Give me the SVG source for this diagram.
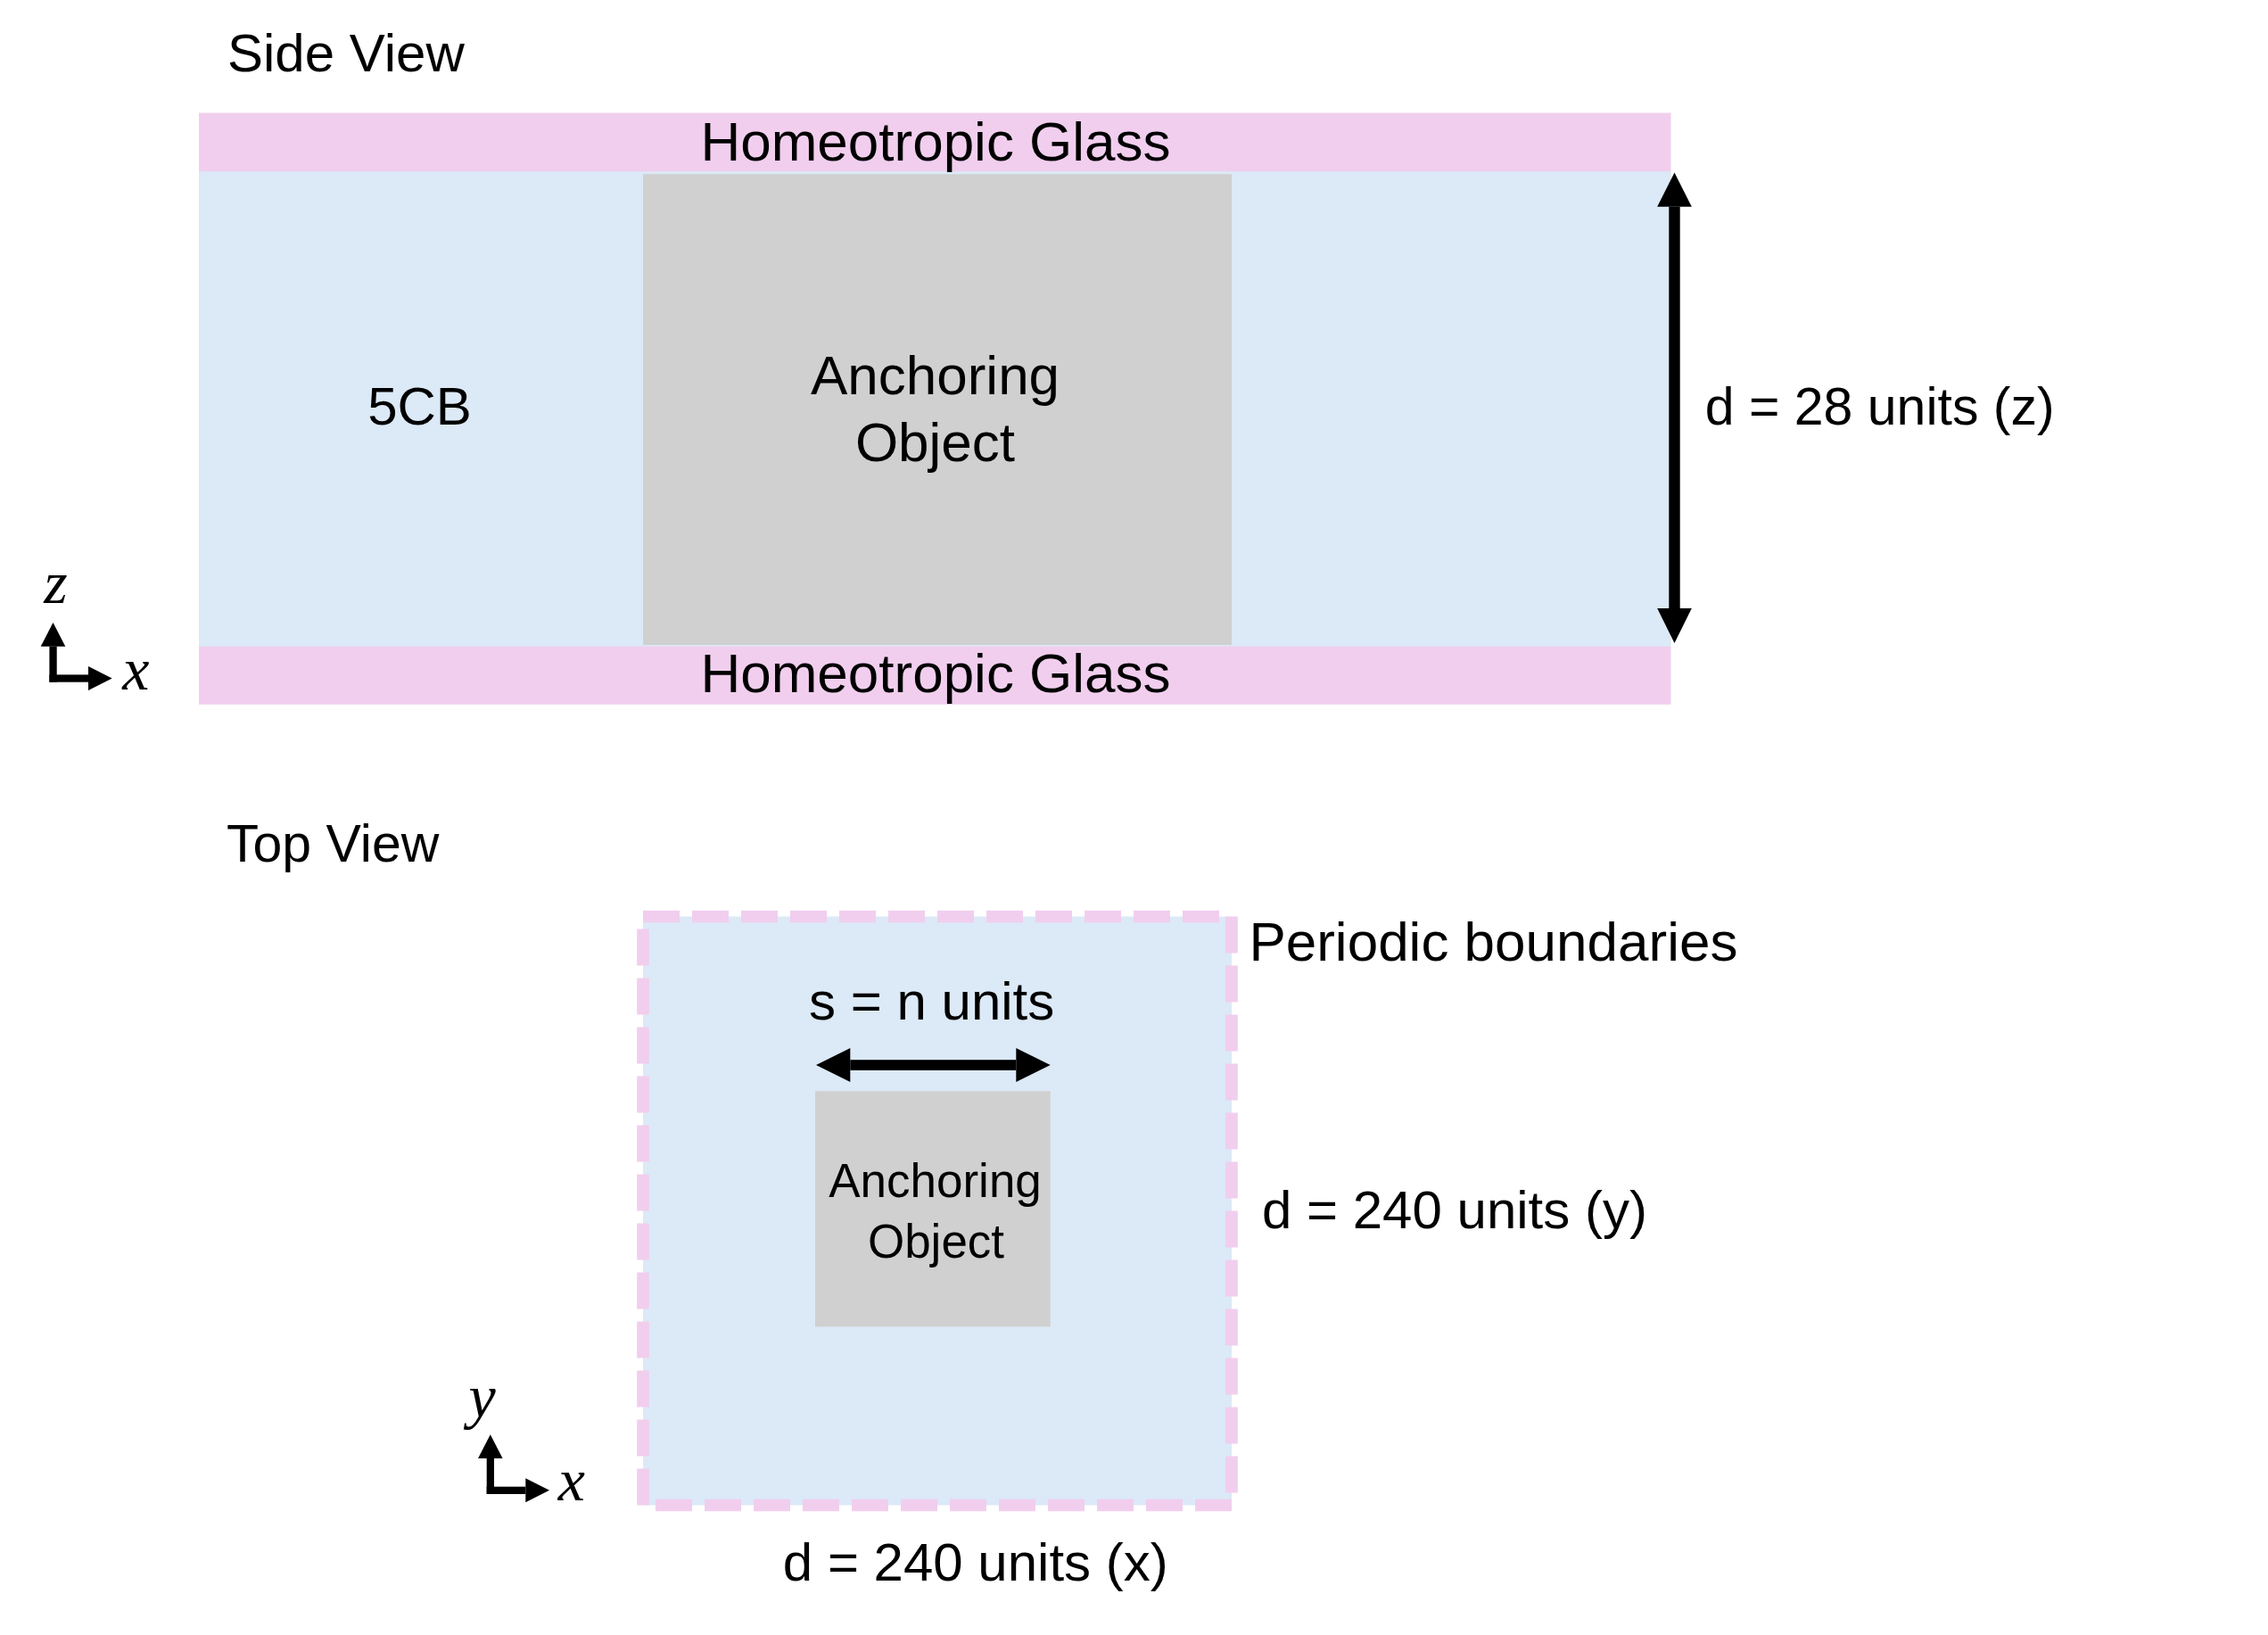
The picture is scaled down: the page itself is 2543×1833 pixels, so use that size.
<svg xmlns="http://www.w3.org/2000/svg" xmlns:xlink="http://www.w3.org/1999/xlink" width="2543" height="1833" viewBox="0 0 2543 1833">
<style>
.t{font-family:"Liberation Sans",Arial,sans-serif;fill:#000}
.m{font-family:"Liberation Serif","Times New Roman",serif;font-style:italic;font-size:68px;fill:#000;text-anchor:middle}
.c{text-anchor:middle}
.glass{fill:#F1CEEE}
.lc{fill:#DCE9F6}
.obj{fill:#D0D0D0}
.blk{fill:#000}
</style>
<defs>
<g id="axes">
<rect class="blk" x="545.7" y="1635" width="8.3" height="40"/>
<polygon class="blk" points="536,1635 563.6,1635 549.8,1608.3"/>
<rect class="blk" x="545.7" y="1666.7" width="43.6" height="8.3"/>
<polygon class="blk" points="589.3,1657.3 589.3,1684.3 616,1670.8"/>
</g>
</defs>
<rect width="2543" height="1833" fill="#FFFFFF"/>

<g id="side-view">
<text class="t" x="255" y="80" font-size="60">Side View</text>
<g id="lc-side"><rect class="lc" x="223" y="192" width="1650.5" height="533"/>
<text class="t c" x="470.5" y="476" font-size="60">5CB</text></g>
<g id="obj-side"><rect class="obj" x="721" y="195.2" width="660" height="527.8"/>
<text class="t c" x="1048.5" y="441.5" font-size="62">Anchoring</text>
<text class="t c" x="1048.5" y="517.4" font-size="62">Object</text></g>
<g id="glass-top"><rect class="glass" x="223" y="126.5" width="1650.5" height="65.7"/>
<text class="t c" x="1049" y="180.4" font-size="62">Homeotropic Glass</text></g>
<g id="glass-bottom"><rect class="glass" x="223" y="724.7" width="1650.5" height="65.1"/>
<text class="t c" x="1049" y="776" font-size="62">Homeotropic Glass</text></g>
<g id="axes-side"><use xlink:href="#axes" href="#axes" transform="translate(-490.3,-910.3)"/>
<text class="m" x="62.5" y="676">z</text>
<text class="m" x="152.4" y="773">x</text></g>
<text class="t" x="1911.7" y="475.5" font-size="59">d = 28 units (z)</text>
</g>

<g id="top-view">
<text class="t" x="254" y="966" font-size="59">Top View</text>
<g id="domain"><rect class="lc" x="721" y="1027.5" width="660" height="660" stroke="#F1CEEE" stroke-width="13.6" stroke-dasharray="41 14"/></g>
<g id="obj-top"><rect class="obj" x="914" y="1223.3" width="263.7" height="264"/>
<text class="t c" x="1048.5" y="1341.7" font-size="53">Anchoring</text>
<text class="t c" x="1049.5" y="1410" font-size="53">Object</text></g>
<text class="t c" x="1044.7" y="1143.3" font-size="60">s = n units</text>
<text class="t" x="1400.4" y="1076.8" font-size="62">Periodic boundaries</text>
<text class="t" x="1415" y="1377" font-size="60">d = 240 units (y)</text>
<text class="t c" x="1093.8" y="1771.7" font-size="60">d = 240 units (x)</text>
<g id="axes-top"><use xlink:href="#axes" href="#axes"/>
<text class="m" x="540.5" y="1589">y</text>
<text class="m" x="640.8" y="1681.7">x</text></g>
</g>

<g id="connectors">
<rect class="blk" x="1871.3" y="231.7" width="12.4" height="450.3"/>
<polygon class="blk" points="1858.2,231.7 1896.8,231.7 1877.5,193.5"/>
<polygon class="blk" points="1858.2,682 1896.8,682 1877.5,721"/>
<rect class="blk" x="953.3" y="1188.2" width="186" height="11.7"/>
<polygon class="blk" points="953.3,1174.9 953.3,1213.1 915,1194"/>
<polygon class="blk" points="1139.3,1174.9 1139.3,1213.1 1177.7,1194"/>
</g>
</svg>
